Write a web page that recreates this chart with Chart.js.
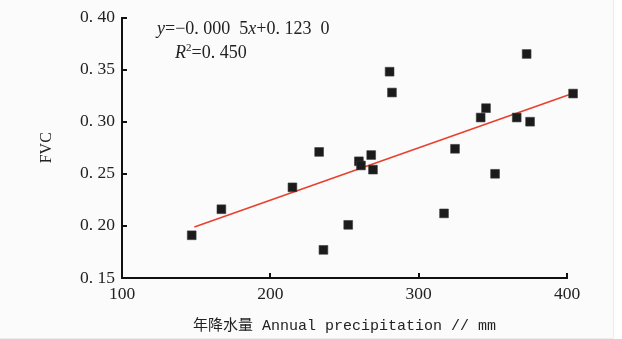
<!DOCTYPE html>
<html>
<head>
<meta charset="utf-8">
<script src="https://cdn.jsdelivr.net/npm/chart.js@4.4.1/dist/chart.umd.min.js"></script>
<style>
html,body{margin:0;padding:0;background:#fff;}
#wrap{width:622px;height:339px;position:relative;}
</style>
</head>
<body>
<div id="wrap"><canvas id="c" width="622" height="339"></canvas></div>
<script>
// Annual precipitation (mm) and FVC for each site
const precip = [147.0,167.0,214.9,232.9,235.8,252.5,259.7,261.1,268.0,269.2,280.4,282.0,317.1,324.5,341.8,345.4,351.5,366.1,372.8,375.1,404.1];
const fvc    = [0.191,0.216,0.237,0.271,0.177,0.201,0.262,0.258,0.268,0.254,0.348,0.328,0.212,0.274,0.304,0.313,0.250,0.304,0.365,0.300,0.327];
// Fitted line end points
const fitX = [148.8, 403.7];
const fitY = [0.199, 0.327];
// Tick values and labels
const xTickVals = [100, 200, 300, 400];
const xTickLabels = ['100', '200', '300', '400'];
const yTickVals = [0.15, 0.20, 0.25, 0.30, 0.35, 0.40];
const yTickLabels = ['0. 15', '0. 20', '0. 25', '0. 30', '0. 35', '0. 40'];
const xTitle = '年降水量 Annual precipitation // mm';
const yTitle = 'FVC';

const serif = "'Liberation Serif', 'Times New Roman', serif";

const bgPlugin = {
  id: 'bg',
  beforeDraw(chart) {
    const ctx = chart.ctx;
    ctx.save();
    ctx.fillStyle = '#fbfbfb';
    ctx.fillRect(0, 0, 613, 338);
    ctx.strokeStyle = '#ececec';
    ctx.lineWidth = 1;
    ctx.beginPath();
    ctx.moveTo(613.5, 0); ctx.lineTo(613.5, 338.5); ctx.lineTo(0, 338.5);
    ctx.stroke();
    ctx.restore();
  }
};

const inwardTicks = {
  id: 'inwardTicks',
  afterDraw(chart) {
    const ctx = chart.ctx;
    const xs = chart.scales.x, ys = chart.scales.y;
    const a = chart.chartArea;
    ctx.save();
    ctx.strokeStyle = '#111';
    ctx.lineWidth = 2;
    ctx.beginPath();
    yTickVals.forEach(v => {
      if (v === yTickVals[0]) return;
      const py = Math.round(ys.getPixelForValue(v));
      ctx.moveTo(a.left, py); ctx.lineTo(a.left + 5, py);
    });
    xTickVals.forEach(v => {
      if (v === xTickVals[0]) return;
      const px = Math.round(xs.getPixelForValue(v));
      ctx.moveTo(px, a.bottom); ctx.lineTo(px, a.bottom - 5);
    });
    ctx.stroke();

    // regression equation text
    ctx.fillStyle = '#222';
    ctx.textBaseline = 'alphabetic';
    const seq = (parts, x, y) => {
      parts.forEach(p => {
        ctx.font = p[1];
        const yy = y + (p[2] || 0);
        ctx.fillText(p[0], x, yy);
        x += ctx.measureText(p[0]).width;
      });
    };
    const it = 'italic 18px ' + serif, rm = '18px ' + serif, sm = '11px ' + serif;
    seq([['y', it], ['=\u22120. 000  5', rm], ['x', it], ['+0. 123  0', rm]], 157, 34);
    seq([['R', it], ['2', sm, -7], ['=0. 450', rm]], 175, 58);
    ctx.restore();
  }
};

new Chart(document.getElementById('c'), {
  type: 'scatter',
  data: {
    datasets: [
      {
        label: 'fit',
        type: 'line',
        data: fitX.map((x, i) => ({x: x, y: fitY[i]})),
        borderColor: '#e8402c',
        borderWidth: 1.6,
        pointRadius: 0,
        fill: false,
        clip: false,
        order: 2
      },
      {
        label: 'FVC',
        data: precip.map((x, i) => ({x: x, y: fvc[i]})),
        pointStyle: 'rect',
        pointRadius: 6.2,
        pointHoverRadius: 6.2,
        backgroundColor: '#1b1b1b',
        borderColor: '#3a3a3a',
        borderWidth: 0.6,
        clip: false,
        order: 1
      }
    ]
  },
  options: {
    responsive: false,
    animation: false,
    events: [],
    layout: { padding: { left: 0, right: 55, top: 16, bottom: 0 } },
    plugins: { legend: { display: false }, tooltip: { enabled: false } },
    scales: {
      x: {
        type: 'linear',
        min: 100, max: 400,
        afterBuildTicks: s => { s.ticks = xTickVals.map(v => ({value: v})); },
        afterFit: s => { s.height = 61; },
        grid: { display: true, drawOnChartArea: false, drawTicks: false },
        border: { display: true, color: '#111', width: 2 },
        ticks: {
          padding: 6,
          color: '#222',
          font: { family: serif, size: 17.5 },
          callback: (v, i) => xTickLabels[xTickVals.indexOf(v)]
        },
        title: {
          display: true, text: xTitle, color: '#222',
          font: { family: "'Liberation Mono', 'Noto Sans CJK SC', monospace", size: 15 },
          padding: { top: 6, bottom: 4 }
        }
      },
      y: {
        type: 'linear',
        min: 0.15, max: 0.40,
        afterBuildTicks: s => { s.ticks = yTickVals.map(v => ({value: v})); },
        afterFit: s => { s.width = 122; },
        grid: { display: true, drawOnChartArea: false, drawTicks: false },
        border: { display: true, color: '#111', width: 2 },
        ticks: {
          padding: 7,
          color: '#222',
          font: { family: serif, size: 17.5 },
          callback: (v, i) => yTickLabels[yTickVals.findIndex(t => Math.abs(t - v) < 1e-9)]
        },
        title: {
          display: true, text: yTitle, color: '#222',
          font: { family: serif, size: 16 },
          padding: { top: 37, bottom: 0 }
        }
      }
    }
  },
  plugins: [bgPlugin, inwardTicks]
});
</script>
</body>
</html>
